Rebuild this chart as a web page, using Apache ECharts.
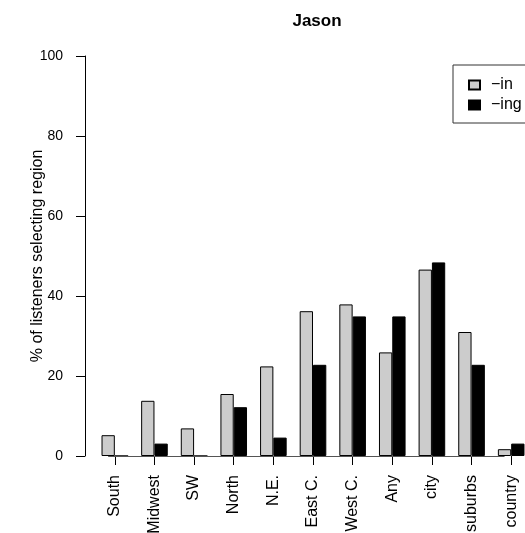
<!DOCTYPE html>
<html>
<head>
<meta charset="utf-8">
<script src="https://cdn.jsdelivr.net/npm/echarts@6/dist/echarts.min.js"></script>
<style>
  html, body { margin: 0; padding: 0; background: #fff; }
  #chart { width: 525px; height: 533px; }
</style>
</head>
<body>
<div id="chart"></div>
<script>
// Regions / place types listeners could pick
const categories = ['South', 'Midwest', 'SW', 'North', 'N.E.', 'East C.', 'West C.', 'Any', 'city', 'suburbs', 'country'];
// % of listeners selecting each region, by variant
const inValues  = [5.2, 13.8, 6.9, 15.5, 22.4, 36.2, 37.9, 25.9, 46.6, 31.0, 1.7];
const ingValues = [0, 3.1, 0, 12.2, 4.6, 22.8, 34.9, 34.9, 48.4, 22.8, 3.1];
const yTicks = [0, 20, 40, 60, 80, 100];

const FONT = '"Liberation Sans", Arial, Helvetica, sans-serif';
const chart = echarts.init(document.getElementById('chart'), null, { renderer: 'canvas' });

chart.setOption({
  animation: false,
  backgroundColor: '#ffffff',
  textStyle: { fontFamily: FONT },
  title: {
    text: 'Jason',
    left: 312,
    top: 8,
    textAlign: 'center',
    textStyle: { fontFamily: FONT, fontWeight: 'bold', fontSize: 17, color: '#000' }
  },
  legend: {
    orient: 'vertical',
    left: 453,
    top: 65,
    padding: [12, 40, 10, 15],
    itemGap: 4,
    itemWidth: 11,
    itemHeight: 9,
    borderColor: '#333',
    borderWidth: 1,
    backgroundColor: '#fff',
    textStyle: { fontFamily: FONT, fontSize: 16, color: '#000', padding: [0, 0, 0, 6] },
    data: [
      { name: '\u2212in', icon: 'rect' },
      { name: '\u2212ing', icon: 'rect' }
    ]
  },
  grid: { left: 95, right: -6, top: 56, bottom: 77, containLabel: false, outerBoundsMode: 'none' },
  xAxis: {
    type: 'category',
    data: categories,
    boundaryGap: true,
    axisLine: { show: false },
    axisTick: { show: true, alignWithLabel: true, length: 9, lineStyle: { color: '#000', width: 1 } },
    axisLabel: { rotate: 90, margin: 19, fontSize: 16, color: '#000', fontFamily: FONT, interval: 0 },
    splitLine: { show: false }
  },
  yAxis: {
    type: 'value',
    min: yTicks[0],
    max: yTicks[yTicks.length - 1],
    interval: yTicks[1] - yTicks[0],
    offset: 10,
    name: '% of listeners selecting region',
    nameLocation: 'middle',
    nameGap: 39,
    nameMoveOverlap: false,
    nameTextStyle: { fontFamily: FONT, fontSize: 16, color: '#000' },
    axisLine: { show: true, lineStyle: { color: '#000', width: 1 } },
    axisTick: { show: true, length: 9, lineStyle: { color: '#000', width: 1 } },
    axisLabel: { margin: 22, fontSize: 14, color: '#000', fontFamily: FONT },
    splitLine: { show: false }
  },
  series: [
    {
      name: '\u2212in',
      type: 'bar',
      data: inValues,
      barWidth: 13.3,
      barGap: '0%',
      itemStyle: { color: '#cccccc', borderColor: '#000', borderWidth: 1 },
      // baseline drawn between the first and last group centres
      markLine: {
        silent: true,
        symbol: 'none',
        label: { show: false },
        lineStyle: { color: '#555', width: 1, type: 'solid' },
        data: [[
          { xAxis: categories[0], yAxis: 0 },
          { xAxis: categories[categories.length - 1], yAxis: 0 }
        ]]
      }
    },
    {
      name: '\u2212ing',
      type: 'bar',
      data: ingValues,
      barWidth: 13.3,
      barGap: '0%',
      itemStyle: { color: '#000000', borderColor: '#000', borderWidth: 1 }
    }
  ]
});
</script>
</body>
</html>
